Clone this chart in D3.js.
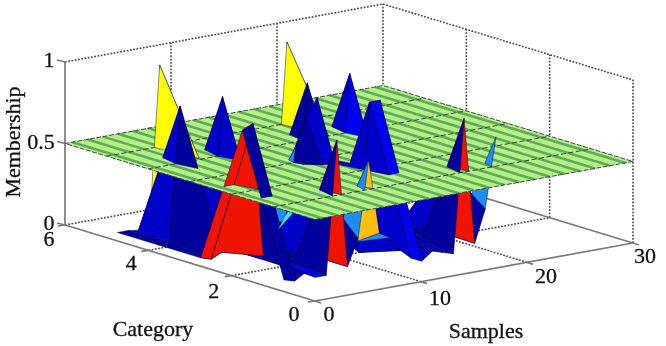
<!DOCTYPE html>
<html><head><meta charset="utf-8">
<style>html,body{margin:0;padding:0;background:#fff}svg{display:block;filter:blur(.35px)}text{font-family:"Liberation Serif",serif;fill:#111;stroke:#111;stroke-width:.3}</style>
<script src="https://cdn.jsdelivr.net/npm/d3@7"></script></head><body>
<svg id="c" width="666" height="346"></svg>
<script>
const membershipTicks=[0,0.5,1];
const categoryTicks=[0,2,4,6];
const sampleTicks=[0,10,20,30];
const planeLevel=0.5;
// membership rows, category 1..5, samples 1..21
const category1=[.04,.02,.06,.02,.02,.84,.05,.21,.68,.22,.18,.09,.03,0,.05,.03,.01,.83,.05,.25,.68];
const category2=[.88,.91,.085,.03,.03,.03,.05,.47,.03,.05,.07,0,.91,.91,.03,.03,.03,.03,.056,.45,0];
const category3=[.02,0,.03,.03,.03,.02,.03,.1,.15,.6,.76,.87,.03,.03,.02,.03,.02,.02,.02,.02,.02];
const category4=[.02,.03,.85,.03,.47,.03,.86,.03,.02,.02,.02,.02,.02,.02,.85,.03,.5,.02,.86,.02,.02];
const category5=[.02,.02,.01,0,1,.02,.02,.02,.02,.02,.02,.02,.02,.02,.02,.02,1,.02,.02,.02,.02];
const rows=[category1,category2,category3,category4,category5];
// facet colour classes per strip between adjacent categories
const strip1="nnbBnrnlolbbBbnbnrnl".split("");
const strip2="rrbbbnbnnnbbnnbbbnbb".split("");
const strip3="nnnbbbbblnnnbnBbbBbb".split("");
const strip4="nbnybbBnbbbnbnnybbnb".split("");
const strips=[strip1,strip2,strip3,strip4];
const palette={n:"#00009c",b:"#0000c8",B:"#0000ee",l:"#1e8cf5",o:"#ffc010",y:"#ffff00",r:"#ee1400",c:"#40e8e0"};
// small slivers showing through under the plane: sample, category, membership triples
const sliverA=[[4.37,2,.23],[5.78,2,.316],[5.3,2,.33]];
const sliverB=[[16.6,2,.25],[17.1,2,.29],[16.7,2,.29]];

const origin=[315,301];
const sX=d3.scaleLinear([0,30],[0,318]), sY=d3.scaleLinear([0,30],[0,-58]);
const cX=d3.scaleLinear([0,6],[0,-250]), cY=d3.scaleLinear([0,6],[0,-76]);
const zY=d3.scaleLinear([0,1],[0,-163]);
const P=(s,c,z)=>[origin[0]+sX(s)+cX(c),origin[1]+sY(s)+cY(c)+zY(z)];
const svg=d3.select("#c");
const line=(a,b)=>svg.append("line").attr("x1",a[0]).attr("y1",a[1]).attr("x2",b[0]).attr("y2",b[1]);
const dotted=(a,b)=>line(a,b).attr("stroke","#4a4a4a").attr("stroke-width",1.6).attr("stroke-dasharray","1.8 1.5");
const solid=(a,b)=>line(a,b).attr("stroke","#7a7a7a").attr("stroke-width",1.7);

// box
const Z1=1;
dotted(P(0,6,Z1),P(30,6,Z1)); dotted(P(30,6,Z1),P(30,0,Z1));
dotted(P(0,6,0),P(30,6,0));
sampleTicks.slice(1).forEach(s=>dotted(P(s,6,0),P(s,6,Z1)));
categoryTicks.slice(1,3).forEach(c=>dotted(P(30,c,0),P(30,c,Z1)));
dotted(P(30,0,0),P(30,0,Z1));
categoryTicks.slice(1,3).forEach(c=>dotted(P(0,c,0),P(30,c,0)));
sampleTicks.slice(1,3).forEach(s=>dotted(P(s,0,0),P(s,6,0)));
solid(P(0,6,0),P(0,6,1)); solid(P(0,0,0),P(0,6,0)); solid(P(0,0,0),P(30,0,0)); solid(P(30,0,0),P(30,6,0));
// ticks
membershipTicks.forEach(z=>{const p=P(0,6,z);solid(p,[p[0]-8,p[1]-2]);});
categoryTicks.forEach(c=>{const p=P(0,c,0);solid(p,[p[0]-7,p[1]+1]);});
sampleTicks.forEach(s=>{const p=P(s,0,0);solid(p,[p[0]+6,p[1]+2]);});
// labels
const label=(t,x,y,size)=>svg.append("text").attr("x",x).attr("y",y).attr("text-anchor","middle").attr("font-size",size||22).text(t);
membershipTicks.forEach(z=>{const p=P(0,6,z);label(z,p[0]-(z==.5?24:16),p[1]+5);});
const cdx={0:-21,2:-18,4:-17,6:-16}, cdy={0:20,2:22,4:20,6:21};
categoryTicks.forEach(c=>{const p=P(0,c,0);label(c,p[0]+cdx[c],p[1]+cdy[c]);});
const sdx={0:14,10:19,20:19,30:12}, sdy={0:20,10:23,20:21,30:20};
sampleTicks.forEach(s=>{const p=P(s,0,0);label(s,p[0]+sdx[s],p[1]+sdy[s]);});
label("Category",153,336);
label("Samples",486,338);
svg.append("text").attr("transform","translate(20,142) rotate(-90)").attr("text-anchor","middle").attr("font-size",22).text("Membership");

// facets split at the plane
function clip(poly,above){
  const out=[],inside=v=>above?v[2]>=planeLevel:v[2]<=planeLevel;
  poly.forEach((a,i)=>{const b=poly[(i+1)%poly.length];
    if(inside(a))out.push(a);
    if(inside(a)!==inside(b)){const t=(planeLevel-a[2])/(b[2]-a[2]);
      out.push([a[0]+t*(b[0]-a[0]),a[1]+t*(b[1]-a[1]),planeLevel]);}});
  return out;
}
const facets=[];
strips.forEach((strip,j)=>strip.forEach((k,i)=>{
  const s=i+1,c=j+1;
  facets.push({s,c,color:palette[k],poly:[[s,c,rows[j][i]],[s+1,c,rows[j][i+1]],[s+1,c+1,rows[j+1][i+1]],[s,c+1,rows[j+1][i]]]});
}));
facets.sort((a,b)=>d3.descending(a.c,b.c)||d3.descending(a.s,b.s));
const gen=d3.line();
const draw=above=>facets.forEach(f=>{
  const q=clip(f.poly,above); if(q.length<3)return;
  svg.append("path").attr("d",gen(q.map(v=>P(...v)))+"Z").attr("fill",f.color)
    .attr("stroke","#000040").attr("stroke-width",.45).attr("stroke-linejoin","round");
});
draw(false);
[sliverA,sliverB].forEach(t=>svg.append("path").attr("d",gen(t.map(v=>P(...v)))+"Z").attr("fill",palette.c));
// plane
const corners=[[0,0],[30,0],[30,6],[0,6]];
svg.append("path").attr("d",gen(corners.map(v=>P(v[0],v[1],planeLevel)))+"Z").attr("fill","#b4f084");
d3.range(0.7,30,30/21).forEach(s=>line(P(s,0,planeLevel),P(s,6,planeLevel)).attr("stroke","#5cab5c").attr("stroke-width",2.6));
d3.range(1,6).forEach(c=>line(P(0,c,planeLevel),P(30,c,planeLevel)).attr("stroke","#333").attr("stroke-width",.9).attr("stroke-dasharray","5 2.5"));
svg.append("path").attr("d",gen(corners.map(v=>P(v[0],v[1],planeLevel)))+"Z").attr("fill","none").attr("stroke","#444").attr("stroke-width",1).attr("stroke-dasharray","5 1.5");
draw(true);
</script></body></html>
